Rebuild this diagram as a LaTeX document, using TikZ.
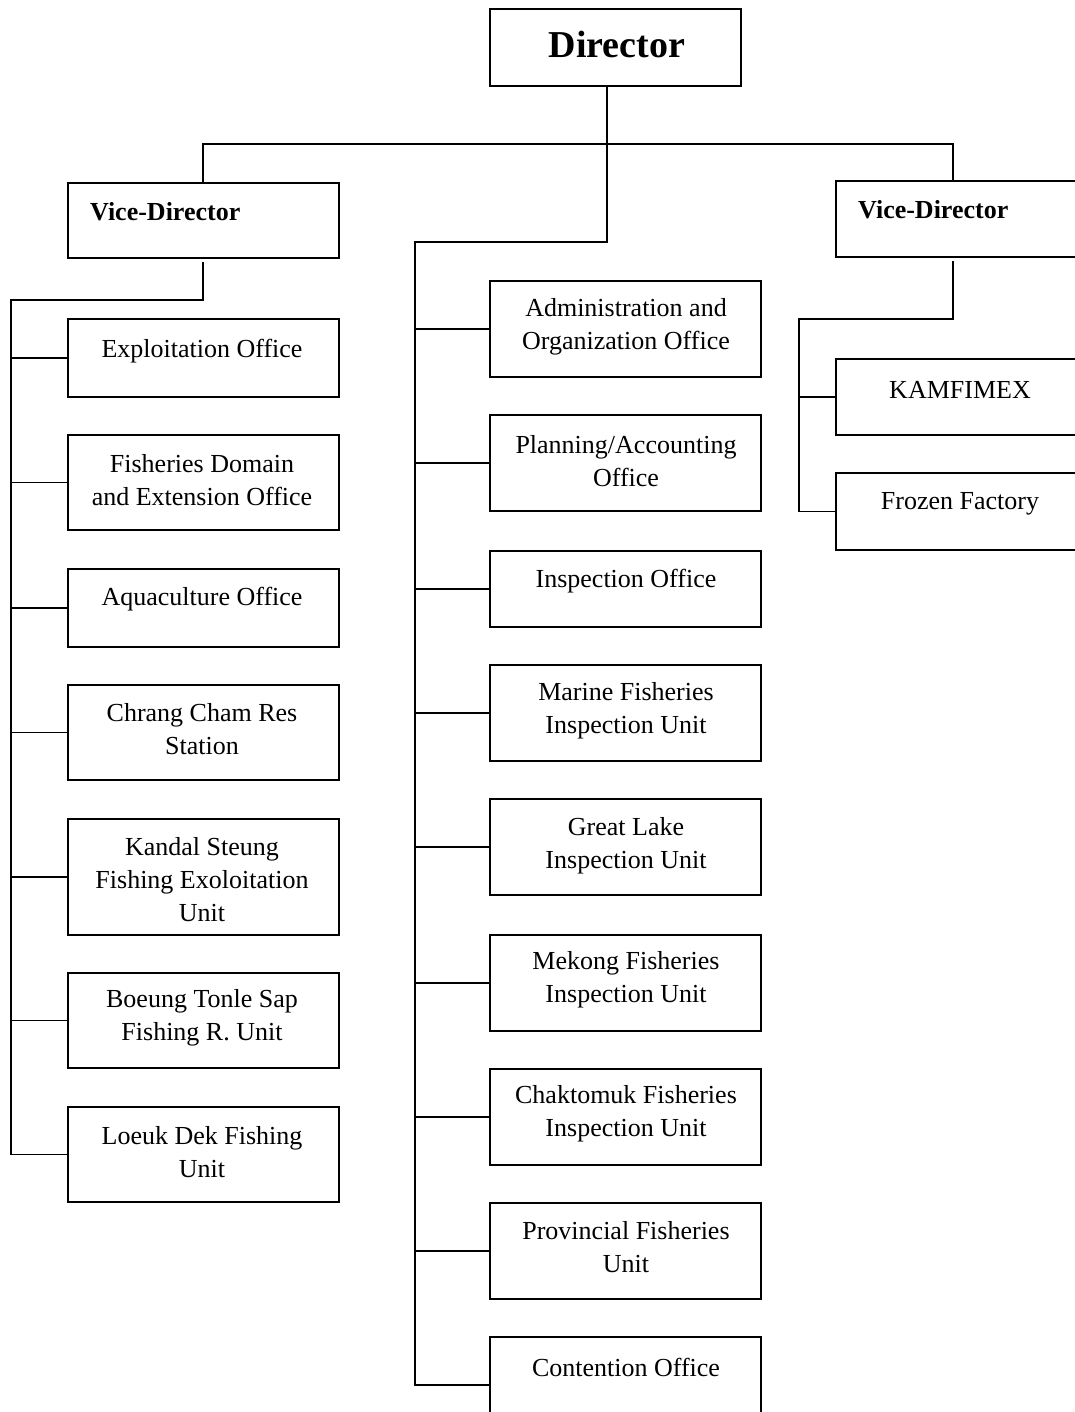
\documentclass[tikz,border=0pt]{standalone}
\usepackage{fontspec}
\setmainfont{Liberation Serif}
\begin{document}
\begin{tikzpicture}[x=1pt,y=-1pt,
  box/.style={draw, line width=1.8pt, rectangle, inner sep=0pt},
  lbox/.style={box, minimum width=271pt},
  rbox/.style={box, minimum width=274pt},
  txt/.style={font=\fontsize{26}{33}\selectfont, align=center, inner sep=0pt, yshift=-2.5pt},
  btxt/.style={font=\fontsize{26}{33}\selectfont\bfseries, inner sep=0pt, anchor=west, yshift=-1pt},
  conn/.style={line width=1.8pt, line cap=rect}]
\useasboundingbox (0,0) rectangle (1075,1412);
\clip (0,0) rectangle (1075,1412);
\fill[white] (0,0) rectangle (1075,1412);

% Director
\node[box, minimum width=251pt, minimum height=77pt] (dir) at (615.5,47.5) {};
\node[txt, font=\fontsize{38}{40}\selectfont\bfseries] at (617,42) {Director};

% Left vice-director branch
\node[lbox, minimum height=75pt] (vdl) at (203.5,220.5) {};
\node[btxt] at (90,211) {Vice-Director};
\node[lbox, minimum height=78pt] (exp) at (203.5,358) {};
\node[txt] at (202,349) {Exploitation Office};
\node[lbox, minimum height=95pt] (fde) at (203.5,482.5) {};
\node[txt] at (202,477.5) {Fisheries Domain\\and Extension Office};
\node[lbox, minimum height=78pt] (aqu) at (203.5,608) {};
\node[txt] at (202,597) {Aquaculture Office};
\node[lbox, minimum height=95pt] (chr) at (203.5,732.5) {};
\node[txt] at (202,727) {Chrang Cham Res\\Station};
\node[lbox, minimum height=116pt] (kan) at (203.5,877) {};
\node[txt] at (202,877) {Kandal Steung\\Fishing Exoloitation\\Unit};
\node[lbox, minimum height=95pt] (boe) at (203.5,1020.5) {};
\node[txt] at (202,1015) {Boeung Tonle Sap\\Fishing R. Unit};
\node[lbox, minimum height=95pt] (loe) at (203.5,1154.5) {};
\node[txt] at (202,1150) {Loeuk Dek Fishing\\Unit};

% Middle column
\node[lbox, minimum height=96pt] (adm) at (625.5,329) {};
\node[txt] at (626,324) {Administration and\\Organization Office};
\node[lbox, minimum height=96pt] (pla) at (625.5,463) {};
\node[txt] at (626,459) {Planning/Accounting\\Office};
\node[lbox, minimum height=76pt] (ins) at (625.5,589) {};
\node[txt] at (626,579) {Inspection Office};
\node[lbox, minimum height=96pt] (mar) at (625.5,713) {};
\node[txt] at (626,708) {Marine Fisheries\\Inspection Unit};
\node[lbox, minimum height=96pt] (gre) at (625.5,847) {};
\node[txt] at (626,843) {Great Lake\\Inspection Unit};
\node[lbox, minimum height=96pt] (mek) at (625.5,983) {};
\node[txt] at (626,977) {Mekong Fisheries\\Inspection Unit};
\node[lbox, minimum height=96pt] (cha) at (625.5,1117) {};
\node[txt] at (626,1111) {Chaktomuk Fisheries\\Inspection Unit};
\node[lbox, minimum height=96pt] (pro) at (625.5,1251) {};
\node[txt] at (626,1245) {Provincial Fisheries\\Unit};
\node[lbox, minimum height=96pt] (con) at (625.5,1385) {};
\node[txt] at (626,1365) {Contention Office};

% Right vice-director branch
\node[rbox, minimum height=76pt] (vdr) at (973,219) {};
\node[btxt] at (858,209) {Vice-Director};
\node[rbox, minimum height=76pt] (kam) at (973,397) {};
\node[txt] at (960,387) {KAMFIMEX};
\node[rbox, minimum height=77pt] (fro) at (973,511.5) {};
\node[txt] at (960,501) {Frozen Factory};

% Connectors
\coordinate (hubL) at (203,144);
\coordinate (hubR) at (953,144);
\coordinate (dx) at (607,242);
\coordinate (mtop) at (415,242);
\coordinate (lx) at (11,300);
\coordinate (rx) at (799,319);

\draw[conn] (dir.south -| dx) -- (dx) -- (mtop) -- (mtop |- con.west) -- (con.west);
\draw[conn] (vdl.north -| hubL) -- (hubL) -- (hubR) -- (hubR |- vdr.north);
\foreach \n in {adm,pla,ins,mar,gre,mek,cha,pro}
  \draw[conn] (mtop |- \n.west) -- (\n.west);

\draw[conn] ([yshift=-4pt]vdl.south -| hubL) -- (hubL |- lx) -- (lx) -- (lx |- loe.west) -- (loe.west);
\foreach \n in {exp,fde,aqu,chr,kan,boe}
  \draw[conn] (lx |- \n.west) -- (\n.west);

\draw[conn] ([yshift=-4pt]vdr.south -| hubR) -- (hubR |- rx) -- (rx) -- (rx |- fro.west) -- (fro.west);
\draw[conn] (rx |- kam.west) -- (kam.west);
\end{tikzpicture}
\end{document}
